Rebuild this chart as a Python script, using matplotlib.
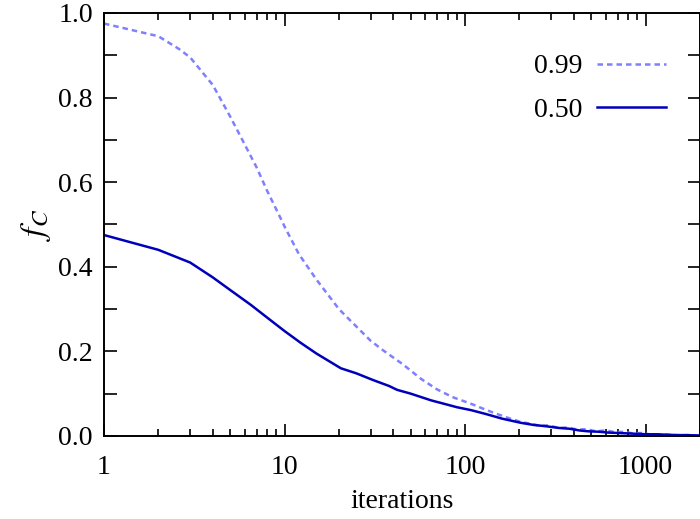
import numpy as np
import matplotlib
matplotlib.use("Agg")
from matplotlib import pyplot as plt
from matplotlib.ticker import FixedLocator, NullFormatter

plt.rcParams['font.family'] = ['Liberation Serif', 'DejaVu Serif']
plt.rcParams['mathtext.fontset'] = 'stix'

# f_C = 0.99 (dashed)
it_99 = [1, 2, 2.6, 3, 4, 5, 6, 7, 8, 9.5, 10, 12, 15, 20, 23, 30, 35, 45, 57, 70, 85, 108,
         130, 150, 175, 204, 230, 260, 290, 330, 370, 420, 470, 530, 600, 680, 760, 850,
         950, 1050, 1200, 1350, 1500, 1700, 2000]
fc_99 = [0.975, 0.945, 0.915, 0.895, 0.83, 0.755, 0.69, 0.635, 0.58, 0.515, 0.495, 0.43,
         0.37, 0.3, 0.274, 0.225, 0.203, 0.17, 0.135, 0.11, 0.092, 0.076,
         0.062, 0.052, 0.042, 0.033, 0.029, 0.024, 0.025, 0.019, 0.020, 0.015, 0.016,
         0.011, 0.013, 0.009, 0.010, 0.006, 0.007, 0.004, 0.004, 0.003, 0.002, 0.002, 0.001]

# f_C = 0.50 (solid)
it_50 = [1, 2, 3, 4, 5, 6.5, 8, 10, 12.3, 15, 20.5, 25, 31, 38, 42, 50, 57, 65, 75, 90, 108,
         130, 160, 204, 240, 280, 330, 380, 430, 480, 550, 620, 700, 800, 900, 1000, 1150,
         1300, 1500, 1700, 2000]
fc_50 = [0.475, 0.44, 0.41, 0.375, 0.345, 0.31, 0.28, 0.248, 0.22, 0.195, 0.16, 0.148,
         0.132, 0.118, 0.109, 0.1, 0.092, 0.084, 0.077, 0.068, 0.061,
         0.052, 0.041, 0.031, 0.026, 0.023, 0.019, 0.017, 0.013, 0.011, 0.010, 0.008,
         0.007, 0.006, 0.005, 0.004, 0.004, 0.003, 0.002, 0.002, 0.001]

fig = plt.figure(figsize=(7, 5.19), dpi=100)
ax = fig.add_axes([0.1486, 0.16, 0.8514, 0.815])

ax.plot(it_99, fc_99, color='#8080ff', lw=1.8, ls=(0, (2.2, 1.6)), label='0.99')
ax.plot(it_50, fc_50, color='#0000bb', lw=1.8, ls='-', label='0.50')

ax.set_xscale('log')
ax.set_xlim(1, 2000)
ax.set_ylim(0, 1)
ax.set_xticks([1, 10, 100, 1000])
ax.set_xticklabels(['1', '10', '100', '1000'])
ax.xaxis.set_minor_locator(FixedLocator([m * 10**d for d in range(4) for m in range(2, 10)]))
ax.xaxis.set_minor_formatter(NullFormatter())
ax.set_yticks([0, 0.2, 0.4, 0.6, 0.8, 1.0])
ax.set_yticklabels(['0.0', '0.2', '0.4', '0.6', '0.8', '1.0'])
ax.yaxis.set_minor_locator(FixedLocator([0.1, 0.3, 0.5, 0.7, 0.9]))

ax.tick_params(which='both', direction='in', top=True, right=True, labelsize=20, width=1.2)
ax.tick_params(axis='x', which='major', length=9, pad=14)
ax.tick_params(axis='x', which='minor', length=5)
ax.tick_params(axis='y', which='both', length=9, pad=8)
for s in ax.spines.values():
    s.set_linewidth(1.4)

ax.set_xlabel('iterations', fontsize=20, labelpad=6)
ax.set_ylabel('$f_C$', fontsize=24, labelpad=4)

ax.legend(loc='upper right', frameon=False, fontsize=20, markerfirst=False,
          handlelength=2.5, handletextpad=0.5, labelspacing=0.65,
          borderaxespad=0, borderpad=0, bbox_to_anchor=(0.943, 0.903))

fig.savefig('out.png', dpi=100)
